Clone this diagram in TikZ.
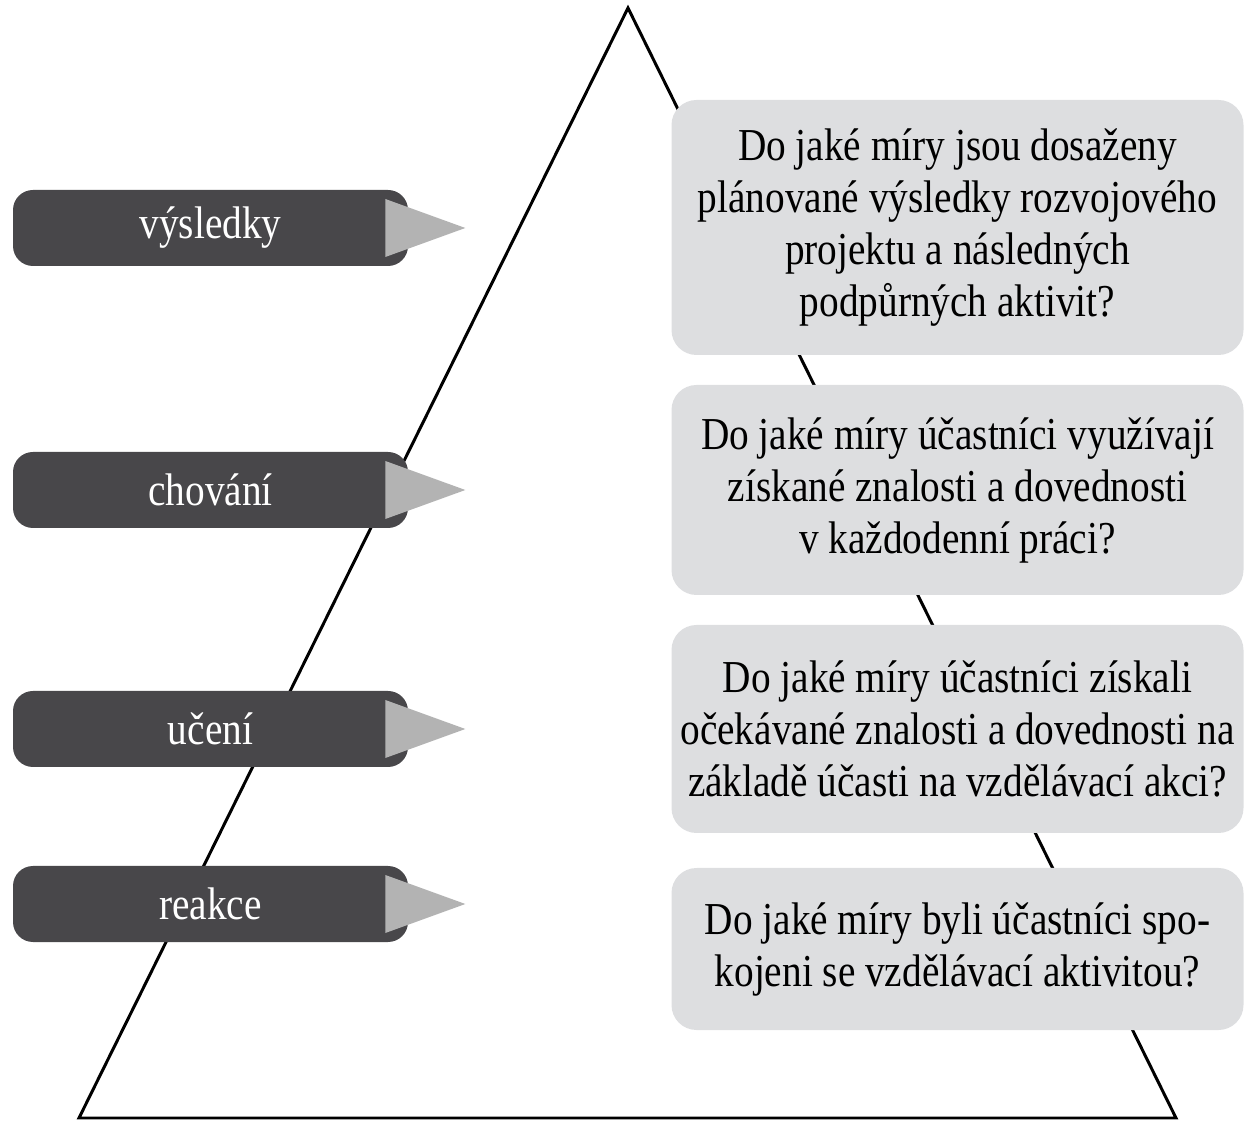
\documentclass[tikz,border=0pt]{standalone}
\usepackage{fontspec}
\setmainfont[FakeStretch=0.86]{Liberation Serif}
\usetikzlibrary{positioning}

\definecolor{leveldark}{HTML}{48474A}
\definecolor{pointgray}{HTML}{B3B3B3}
\definecolor{questiongray}{HTML}{DDDEE0}

\begin{document}
\begin{tikzpicture}[
    level/.style={fill=leveldark, text=white, rounded corners=0.4cm,
        minimum width=7.9cm, minimum height=1.52cm, inner sep=0pt,
        font=\fontsize{26}{29.6}\selectfont},
    question/.style={fill=questiongray, rounded corners=0.5cm,
        minimum width=11.44cm, align=center, inner sep=0pt,
        font=\fontsize{26}{29.6}\selectfont}
]
    \useasboundingbox (0,0) rectangle (24.88,22.48);

    % Pyramid
    \coordinate (apex) at (12.56,22.32);
    \coordinate (baseleft) at (1.58,0.12);
    \coordinate (baseright) at (23.52,0.12);
    \draw[line width=1.7pt] (apex) -- (baseright) -- (baseleft) -- cycle;

    % Levels on the left
    \node[level] (vysledky) at (4.21,17.92) {výsledky};
    \node[level] (chovani) at (4.21,12.68) {chování};
    \node[level] (uceni) at (4.21,7.90) {učení};
    \node[level] (reakce) at (4.21,4.40) {reakce};

    % Grey pointers
    \foreach \lvl in {vysledky, chovani, uceni, reakce}
        \fill[pointgray] ([xshift=-0.46cm]\lvl.east) ++(0,0.58) -- ++(1.6,-0.58) -- ++(-1.6,-0.58) -- cycle;

    % Questions on the right
    \node[question, minimum height=5.10cm] (q1) at (19.15,17.93)
        {Do jaké míry jsou dosaženy\\plánované výsledky rozvojového\\projektu a následných\\podpůrných aktivit?};
    \node[question, minimum height=4.20cm] (q2) at (19.15,12.68)
        {Do jaké míry účastníci využívají\\získané znalosti a dovednosti\\v každodenní práci?};
    \node[question, minimum height=4.16cm] (q3) at (19.15,7.90)
        {Do jaké míry účastníci získali\\očekávané znalosti a dovednosti na\\základě účasti na vzdělávací akci?};
    \node[question, minimum height=3.24cm] (q4) at (19.15,3.50)
        {Do jaké míry byli účastníci spo-\\kojeni se vzdělávací aktivitou?};
\end{tikzpicture}
\end{document}
